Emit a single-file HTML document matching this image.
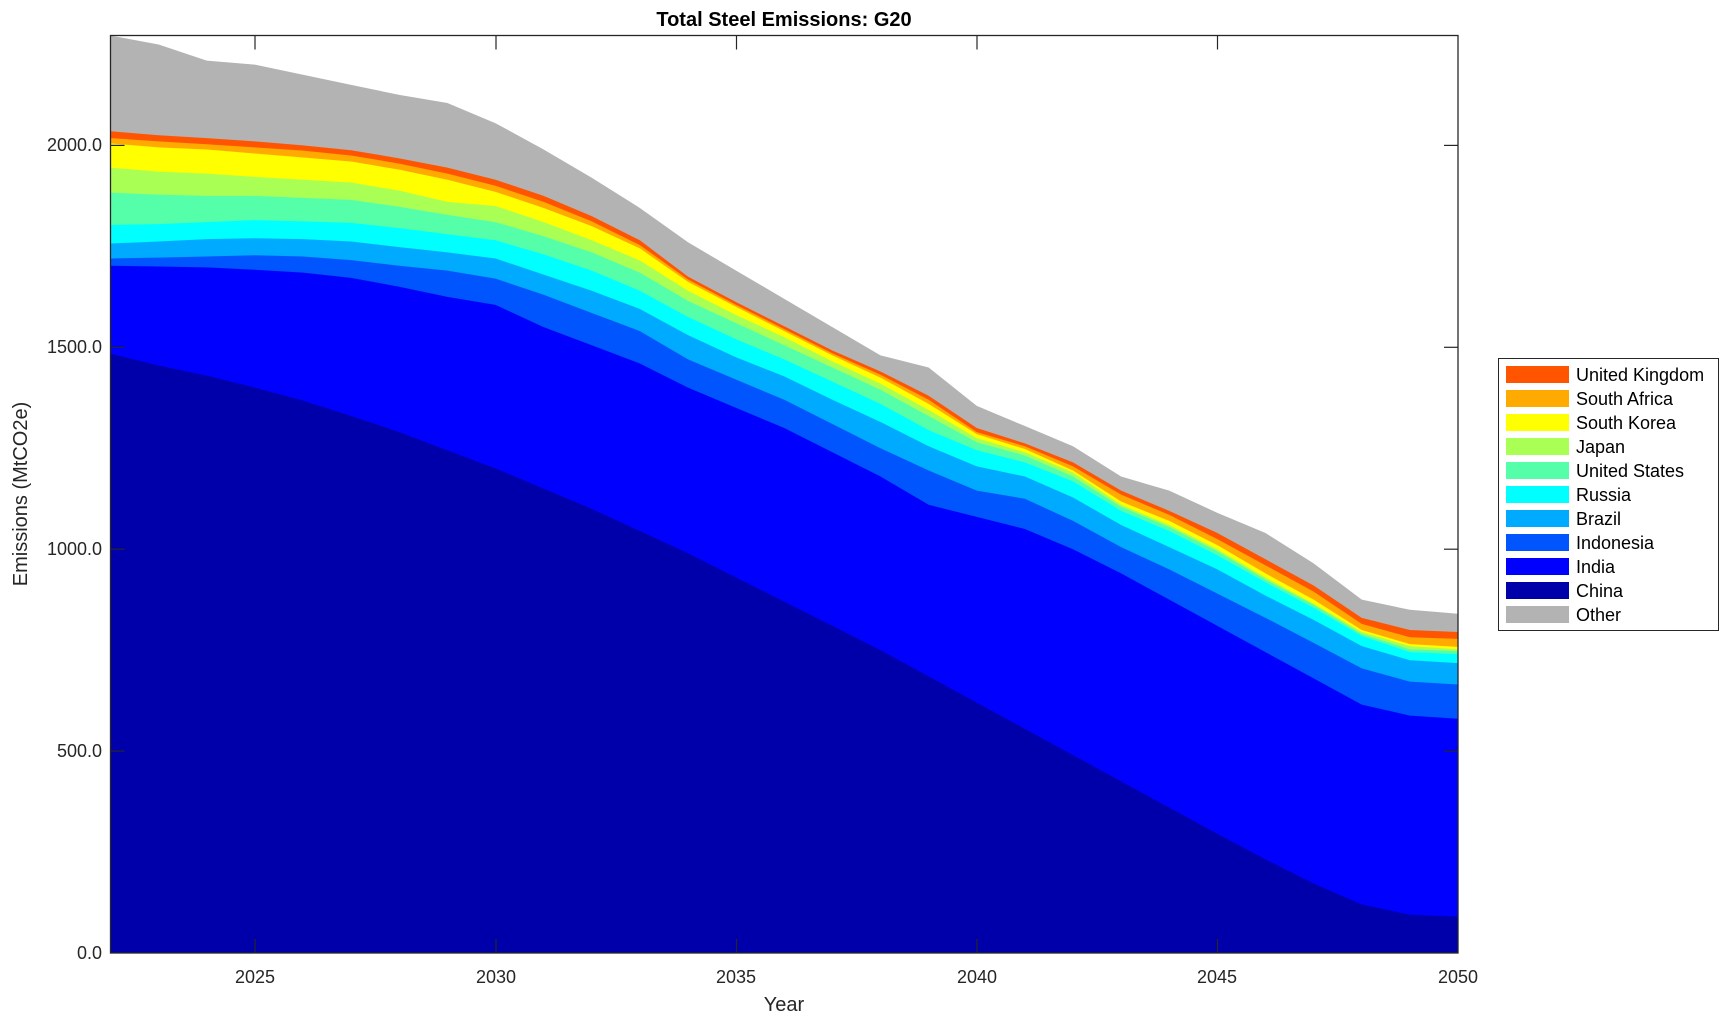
<!DOCTYPE html>
<html><head><meta charset="utf-8"><style>
html,body{margin:0;padding:0;background:#fff}
svg{display:block;font-family:"Liberation Sans",Arial,sans-serif}
</style></head><body>
<svg width="1730" height="1021" viewBox="0 0 1730 1021" xmlns="http://www.w3.org/2000/svg">
<g transform="translate(110.5,953) scale(48.125,-0.4038)">
<polygon fill="#B3B3B3" points="0,2272 1,2250 2,2210 3,2200 4,2175 5,2150 6,2125 7,2105 8,2055 9,1990 10,1920 11,1845 12,1760 13,1690 14,1620 15,1550 16,1480 17,1450 18,1355 19,1305 20,1255 21,1180 22,1145 23,1090 24,1040 25,965 26,875 27,850 28,840 28,0 0,0"/>
<polygon fill="#FF5500" points="0,2035 1,2025 2,2018 3,2010 4,2000 5,1988 6,1968 7,1945 8,1915 9,1875 10,1825 11,1765 12,1675 13,1612 14,1552 15,1492 16,1440 17,1380 18,1300 19,1262 20,1215 21,1145 22,1095 23,1040 24,975 25,910 26,830 27,800 28,795 28,0 0,0"/>
<polygon fill="#FFAA00" points="0,2018 1,2010 2,2003 3,1995 4,1987 5,1975 6,1955 7,1930 8,1900 9,1860 10,1812 11,1753 12,1668 13,1605 14,1545 15,1485 16,1432 17,1370 18,1290 19,1255 20,1205 21,1135 22,1085 23,1025 24,960 25,895 26,815 27,782 28,778 28,0 0,0"/>
<polygon fill="#FFFF00" points="0,2005 1,1995 2,1990 3,1980 4,1970 5,1960 6,1940 7,1915 8,1885 9,1845 10,1800 11,1745 12,1662 13,1600 14,1540 15,1480 16,1425 17,1360 18,1285 19,1248 20,1195 21,1118 22,1070 23,1010 24,940 25,875 26,800 27,765 28,758 28,0 0,0"/>
<polygon fill="#AAFF55" points="0,1945 1,1935 2,1930 3,1922 4,1915 5,1908 6,1888 7,1860 8,1850 9,1810 10,1765 11,1715 12,1640 13,1580 14,1525 15,1465 16,1410 17,1345 18,1275 19,1240 20,1190 21,1110 22,1060 23,1000 24,930 25,865 26,795 27,760 28,752 28,0 0,0"/>
<polygon fill="#55FFAA" points="0,1883 1,1878 2,1875 3,1875 4,1870 5,1865 6,1848 7,1828 8,1810 9,1775 10,1735 11,1685 12,1615 13,1560 14,1505 15,1450 16,1395 17,1330 18,1265 19,1232 20,1180 21,1105 22,1055 23,995 24,925 25,862 26,790 27,752 28,748 28,0 0,0"/>
<polygon fill="#00FFFF" points="0,1803 1,1805 2,1810 3,1815 4,1812 5,1808 6,1795 7,1780 8,1765 9,1730 10,1690 11,1640 12,1575 13,1520 14,1470 15,1415 16,1360 17,1295 18,1245 19,1215 20,1168 21,1095 22,1045 23,985 24,918 25,855 26,785 27,745 28,740 28,0 0,0"/>
<polygon fill="#00AAFF" points="0,1757 1,1762 2,1768 3,1770 4,1768 5,1762 6,1748 7,1735 8,1720 9,1680 10,1640 11,1595 12,1530 13,1475 14,1428 15,1370 16,1315 17,1255 18,1205 19,1180 20,1128 21,1060 22,1005 23,950 24,885 25,825 26,760 27,725 28,718 28,0 0,0"/>
<polygon fill="#0055FF" points="0,1720 1,1722 2,1725 3,1728 4,1725 5,1716 6,1702 7,1690 8,1670 9,1630 10,1585 11,1540 12,1470 13,1420 14,1370 15,1310 16,1250 17,1195 18,1145 19,1125 20,1070 21,1005 22,950 23,890 24,830 25,768 26,705 27,672 28,665 28,0 0,0"/>
<polygon fill="#0000FF" points="0,1702 1,1700 2,1698 3,1692 4,1685 5,1672 6,1650 7,1625 8,1605 9,1550 10,1505 11,1460 12,1400 13,1350 14,1300 15,1240 16,1180 17,1110 18,1080 19,1050 20,1000 21,940 22,875 23,810 24,745 25,680 26,615 27,588 28,580 28,0 0,0"/>
<polygon fill="#0000AA" points="0,1484 1,1455 2,1430 3,1400 4,1368 5,1330 6,1290 7,1245 8,1200 9,1150 10,1100 11,1045 12,990 13,930 14,870 15,810 16,750 17,685 18,620 19,555 20,490 21,425 22,360 23,295 24,232 25,172 26,120 27,95 28,90 28,0 0,0"/>
</g>
<rect x="110.5" y="35.5" width="1347.5" height="917.5" fill="none" stroke="#262626" stroke-width="1.3"/>
<g stroke="#262626" stroke-width="1.2">
<line x1="255" y1="953" x2="255" y2="939"/><line x1="255" y1="35.5" x2="255" y2="49.5"/>
<line x1="496" y1="953" x2="496" y2="939"/><line x1="496" y1="35.5" x2="496" y2="49.5"/>
<line x1="736.5" y1="953" x2="736.5" y2="939"/><line x1="736.5" y1="35.5" x2="736.5" y2="49.5"/>
<line x1="977" y1="953" x2="977" y2="939"/><line x1="977" y1="35.5" x2="977" y2="49.5"/>
<line x1="1217.5" y1="953" x2="1217.5" y2="939"/><line x1="1217.5" y1="35.5" x2="1217.5" y2="49.5"/>
<line x1="110.5" y1="751.1" x2="124.5" y2="751.1"/><line x1="1458" y1="751.1" x2="1444" y2="751.1"/>
<line x1="110.5" y1="549.2" x2="124.5" y2="549.2"/><line x1="1458" y1="549.2" x2="1444" y2="549.2"/>
<line x1="110.5" y1="347.3" x2="124.5" y2="347.3"/><line x1="1458" y1="347.3" x2="1444" y2="347.3"/>
<line x1="110.5" y1="145.4" x2="124.5" y2="145.4"/><line x1="1458" y1="145.4" x2="1444" y2="145.4"/>
</g>
<g font-size="18" fill="#262626" text-anchor="end">
<text x="102" y="959">0.0</text>
<text x="102" y="757">500.0</text>
<text x="102" y="555">1000.0</text>
<text x="102" y="353">1500.0</text>
<text x="102" y="151">2000.0</text>
</g>
<g font-size="18" fill="#262626" text-anchor="middle">
<text x="255" y="983">2025</text>
<text x="496" y="983">2030</text>
<text x="736" y="983">2035</text>
<text x="977" y="983">2040</text>
<text x="1217" y="983">2045</text>
<text x="1458" y="983">2050</text>
</g>
<text x="784" y="1011" font-size="20" fill="#262626" text-anchor="middle">Year</text>
<text transform="translate(27,494) rotate(-90)" font-size="20" fill="#262626" text-anchor="middle">Emissions (MtCO2e)</text>
<text x="784" y="26" font-size="20" font-weight="bold" fill="#000" text-anchor="middle">Total Steel Emissions: G20</text>
<rect x="1498.5" y="358.5" width="220" height="272" fill="#fff" stroke="#262626" stroke-width="1"/>
<g font-size="18" fill="#000">
<rect x="1506" y="366" width="63" height="17" fill="#FF5500"/><text x="1576" y="381">United Kingdom</text>
<rect x="1506" y="390" width="63" height="17" fill="#FFAA00"/><text x="1576" y="405">South Africa</text>
<rect x="1506" y="414" width="63" height="17" fill="#FFFF00"/><text x="1576" y="429">South Korea</text>
<rect x="1506" y="438" width="63" height="17" fill="#AAFF55"/><text x="1576" y="453">Japan</text>
<rect x="1506" y="462" width="63" height="17" fill="#55FFAA"/><text x="1576" y="477">United States</text>
<rect x="1506" y="486" width="63" height="17" fill="#00FFFF"/><text x="1576" y="501">Russia</text>
<rect x="1506" y="510" width="63" height="17" fill="#00AAFF"/><text x="1576" y="525">Brazil</text>
<rect x="1506" y="534" width="63" height="17" fill="#0055FF"/><text x="1576" y="549">Indonesia</text>
<rect x="1506" y="558" width="63" height="17" fill="#0000FF"/><text x="1576" y="573">India</text>
<rect x="1506" y="582" width="63" height="17" fill="#0000AA"/><text x="1576" y="597">China</text>
<rect x="1506" y="606" width="63" height="17" fill="#B3B3B3"/><text x="1576" y="621">Other</text>
</g>
</svg>
</body></html>
